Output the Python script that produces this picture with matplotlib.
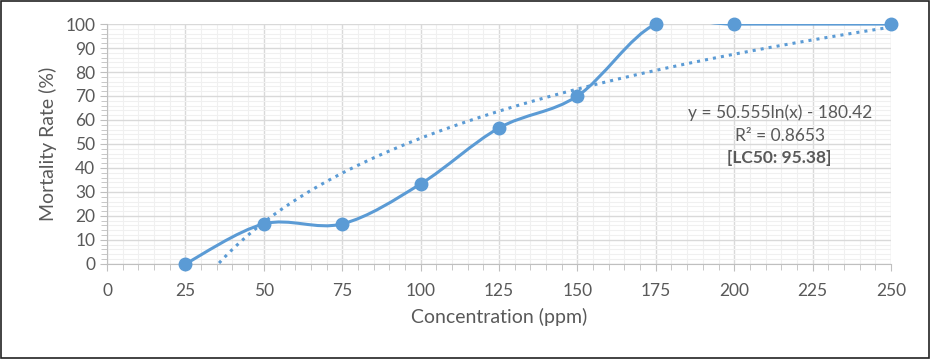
import numpy as np
import matplotlib.pyplot as plt
from matplotlib.path import Path
from matplotlib.patches import PathPatch, Rectangle
from matplotlib.ticker import MultipleLocator

plt.rcParams['font.family'] = ['Lato', 'DejaVu Sans']

conc = [25, 50, 75, 100, 125, 150, 175, 200, 250]
mortality = [0, 16.67, 16.67, 33.33, 56.67, 70, 100, 100, 100]

blue = '#5B9BD5'
grey_txt = '#595959'

fig = plt.figure(figsize=(9.31, 3.59), dpi=100)
ax = fig.add_axes([0.115, 0.265, 0.842, 0.668])

# smoothed line like Excel (bezier through the points)
x = np.array(conc, float)
y = np.array(mortality, float)
pts = np.column_stack([x, y])
verts = [pts[0]]
codes = [Path.MOVETO]
n = len(pts)
for i in range(n - 1):
    p0 = pts[i - 1] if i > 0 else pts[i]
    p1 = pts[i]
    p2 = pts[i + 1]
    p3 = pts[i + 2] if i + 2 < n else pts[i + 1]
    c1 = p1 + (p2 - p0) / 6
    c2 = p2 - (p3 - p1) / 6
    verts += [c1, c2, p2]
    codes += [Path.CURVE4] * 3
ax.add_patch(PathPatch(Path(verts, codes), fill=False, edgecolor=blue, lw=2.2, zorder=3))
ax.plot(conc, mortality, 'o', color=blue, ms=9, zorder=4, clip_on=False)

# log trendline fitted from the data
b, a = np.polyfit(np.log(x), y, 1)
xt = np.linspace(min(conc), max(conc), 400)
yt = b * np.log(xt) + a
ax.plot(xt[yt >= 0], yt[yt >= 0], ':', color=blue, lw=2.2, zorder=2)

ax.set_xlim(0, 250)
ax.set_ylim(0, 100)
ax.xaxis.set_major_locator(MultipleLocator(25))
ax.xaxis.set_minor_locator(MultipleLocator(5))
ax.yaxis.set_major_locator(MultipleLocator(10))
ax.yaxis.set_minor_locator(MultipleLocator(2))
ax.grid(which='major', color='#d9d9d9', lw=1.0, zorder=0)
ax.grid(which='minor', color='#f0f0f0', lw=0.8, zorder=0)
ax.set_axisbelow(True)
for s in ['top', 'right']:
    ax.spines[s].set_visible(False)
for s in ['left', 'bottom']:
    ax.spines[s].set_color('#bfbfbf')
ax.tick_params(which='both', colors='#bfbfbf', labelcolor=grey_txt, labelsize=12.5)
ax.tick_params(which='major', length=5)
ax.tick_params(which='minor', length=4)
ax.tick_params(axis='x', pad=9)

ax.set_xlabel('Concentration (ppm)', fontsize=14, color=grey_txt, labelpad=6)
ax.set_ylabel('Mortality Rate (%)', fontsize=14, color=grey_txt, labelpad=6)

tx = 214.5
ax.text(tx, 63, 'y = 50.555ln(x) - 180.42', ha='center', va='center', fontsize=12.5, color=grey_txt)
ax.text(tx, 53.5, 'R² = 0.8653', ha='center', va='center', fontsize=12.5, color=grey_txt)
ax.text(tx, 44, '[LC50: 95.38]', ha='center', va='center', fontsize=12.5, color=grey_txt, fontweight='bold')

fig.patches.append(Rectangle((0.001, 0.002), 0.997, 0.995, transform=fig.transFigure,
                             fill=False, edgecolor='#222222', lw=1.2))

fig.savefig('out.png', dpi=100)
